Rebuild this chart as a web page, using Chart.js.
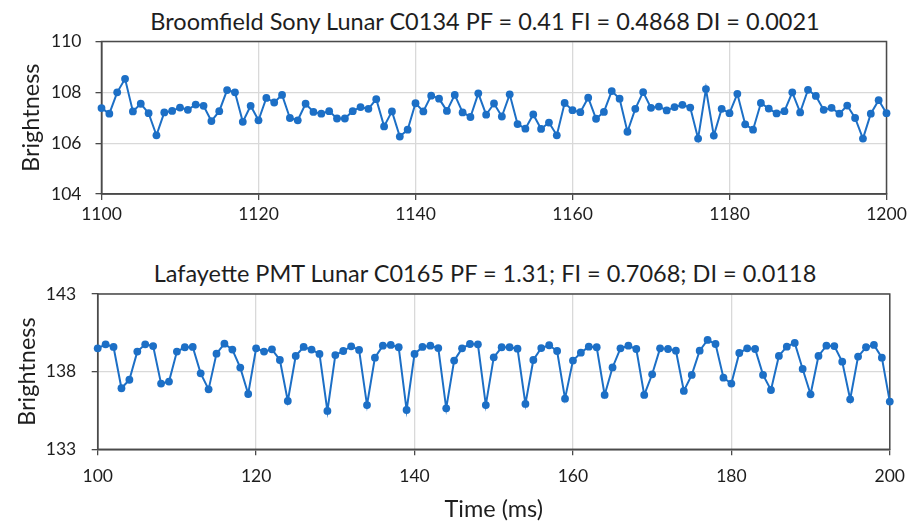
<!DOCTYPE html>
<html>
<head>
<meta charset="utf-8">
<script src="https://cdn.jsdelivr.net/npm/chart.js@4.4.1/dist/chart.umd.min.js"></script>
<style>
  html, body { margin: 0; padding: 0; background: #fff; }
  #wrap { position: relative; width: 916px; height: 524px; overflow: hidden; }
  #wrap canvas { position: absolute; left: 0; }
  .ttl {
    position: absolute; left: 0; width: 970px; text-align: center;
    font: 23.5px Lato, sans-serif; line-height: 28px; color: #1e1e1e; white-space: nowrap;
  }
</style>
</head>
<body>
<div id="wrap">
  <div class="ttl" style="top:7px">Broomfield Sony Lunar C0134 PF = 0.41 FI = 0.4868 DI = 0.0021</div>
  <canvas id="topChart" width="916" height="240" style="top:0"></canvas>
  <div class="ttl" style="top:259px">Lafayette PMT Lunar C0165 PF = 1.31; FI = 0.7068; DI = 0.0118</div>
  <canvas id="bottomChart" width="916" height="280" style="top:244px"></canvas>
</div>
<script>
// Broomfield: one sample per ms, 1100..1200 ms
const broomfieldStart = 1100;
const broomfieldBrightness = [
    107.38, 107.16, 108.00, 108.53, 107.25, 107.55, 107.18, 106.31, 107.21, 107.27,
    107.40, 107.31, 107.52, 107.47, 106.87, 107.26, 108.09, 108.00, 106.84, 107.47,
    106.90, 107.78, 107.60, 107.90, 106.99, 106.90, 107.55, 107.23, 107.16, 107.26,
    106.97, 106.97, 107.26, 107.42, 107.35, 107.73, 106.66, 107.25, 106.26, 106.53,
    107.57, 107.25, 107.87, 107.75, 107.27, 107.90, 107.21, 107.03, 107.96, 107.12,
    107.56, 107.05, 107.92, 106.75, 106.57, 107.13, 106.56, 106.81, 106.31, 107.58,
    107.30, 107.22, 107.79, 106.96, 107.23, 108.05, 107.75, 106.45, 107.35, 108.01,
    107.39, 107.44, 107.29, 107.42, 107.51, 107.40, 106.18, 108.13, 106.30, 107.35,
    107.18, 107.94, 106.74, 106.53, 107.58, 107.36, 107.17, 107.26, 108.00, 107.21,
    108.10, 107.86, 107.31, 107.39, 107.16, 107.48, 106.99, 106.18, 107.16, 107.69,
    107.18
];

// Lafayette: one sample per ms, 100..200 ms
const lafayetteStart = 100;
const lafayetteBrightness = [
    139.50, 139.76, 139.59, 136.93, 137.48, 139.29, 139.76, 139.65, 137.23, 137.36,
    139.29, 139.57, 139.59, 137.89, 136.86, 139.16, 139.80, 139.42, 138.26, 136.56,
    139.50, 139.29, 139.44, 138.75, 136.11, 139.01, 139.59, 139.42, 139.14, 135.47,
    139.07, 139.33, 139.63, 139.40, 135.85, 138.90, 139.67, 139.72, 139.57, 135.53,
    139.14, 139.59, 139.67, 139.52, 135.64, 138.71, 139.50, 139.78, 139.76, 135.85,
    138.92, 139.57, 139.57, 139.48, 135.92, 138.75, 139.52, 139.70, 139.33, 136.26,
    138.71, 139.22, 139.61, 139.57, 136.50, 138.27, 139.50, 139.67, 139.46, 136.50,
    137.83, 139.50, 139.46, 139.35, 136.76, 137.79, 139.35, 140.04, 139.78, 137.61,
    137.23, 139.20, 139.50, 139.46, 137.79, 136.82, 139.01, 139.61, 139.85, 138.17,
    136.54, 139.01, 139.67, 139.65, 138.64, 136.22, 138.97, 139.57, 139.72, 138.90,
    136.07
];

const topXRange = [1100, 1200];
const topYRange = [104, 110];
const bottomXRange = [100, 200];
const bottomYRange = [133, 143];
const xStep = 20;

const lineColor = '#1c6fc6';
const axisColor = '#4a4a4a';
const gridColor = '#d9d9d9';
const textColor = '#1e1e1e';

Chart.defaults.font.family = 'Lato, sans-serif';
Chart.defaults.color = textColor;

// box around the plot area (Excel-style frame)
const frame = {
    id: 'frame',
    beforeDatasetsDraw(chart) {
        const { ctx, chartArea: a } = chart;
        ctx.save();
        ctx.strokeStyle = axisColor;
        ctx.lineWidth = 1.5;
        ctx.strokeRect(a.left, a.top, a.right - a.left, a.bottom - a.top);
        ctx.restore();
    }
};

function toPoints(start, values) {
    return values.map((v, i) => ({ x: start + i, y: v }));
}

function makeChart(id, opts) {
    return new Chart(document.getElementById(id), {
        type: 'line',
        data: {
            datasets: [{
                data: toPoints(opts.start, opts.values),
                borderColor: lineColor,
                backgroundColor: lineColor,
                borderWidth: 2,
                pointRadius: 3.9,
                pointBorderWidth: 0,
                tension: 0,
                clip: false
            }]
        },
        options: {
            responsive: false,
            animation: false,
            layout: { padding: { top: opts.top, right: opts.right, left: 0, bottom: 0 } },
            plugins: { legend: { display: false }, tooltip: { enabled: false } },
            scales: {
                x: {
                    type: 'linear',
                    min: opts.xRange[0],
                    max: opts.xRange[1],
                    ticks: {
                        stepSize: xStep,
                        padding: opts.xPad,
                        font: { size: 17.5 },
                        color: textColor,
                        format: { useGrouping: false }
                    },
                    grid: { color: gridColor, lineWidth: 1.3, tickLength: 6, tickColor: axisColor },
                    border: { color: axisColor, width: 1.5 },
                    title: {
                        display: !!opts.xTitle,
                        text: opts.xTitle || '',
                        font: { size: 23.5 },
                        color: textColor,
                        padding: { top: 0, bottom: 0 }
                    },
                    afterFit(scale) { scale.height = opts.xHeight; }
                },
                y: {
                    min: opts.yRange[0],
                    max: opts.yRange[1],
                    ticks: {
                        stepSize: opts.yStep,
                        padding: opts.yPad,
                        font: { size: 17.5 },
                        color: textColor,
                        format: { useGrouping: false }
                    },
                    grid: { color: gridColor, lineWidth: 1.3, tickLength: 6, tickColor: axisColor },
                    border: { color: axisColor, width: 1.5 },
                    title: {
                        display: true,
                        text: 'Brightness',
                        font: { size: 23.5 },
                        color: textColor,
                        padding: { top: opts.yTitlePad, bottom: 0 }
                    },
                    afterFit(scale) { scale.width = opts.yWidth; }
                }
            }
        },
        plugins: [frame]
    });
}

function initCharts() {
    makeChart('topChart', {
        start: broomfieldStart,
        values: broomfieldBrightness,
        xRange: topXRange,
        yRange: topYRange,
        yStep: 2,
        top: 41.5,
        right: 29.5,
        yWidth: 101.5,
        xHeight: 46,
        xPad: 3.5,
        yPad: 14,
        yTitlePad: 17.5
    });

    makeChart('bottomChart', {
        start: lafayetteStart,
        values: lafayetteBrightness,
        xRange: bottomXRange,
        yRange: bottomYRange,
        yStep: 5,
        top: 50,
        right: 22.5,
        yWidth: 97.7,
        xHeight: 74.7,
        xPad: 11,
        yPad: 15.5,
        yTitlePad: 13,
        xTitle: 'Time (ms)'
    });
}

document.fonts.load('17px Lato').then(initCharts, initCharts);
</script>
</body>
</html>
